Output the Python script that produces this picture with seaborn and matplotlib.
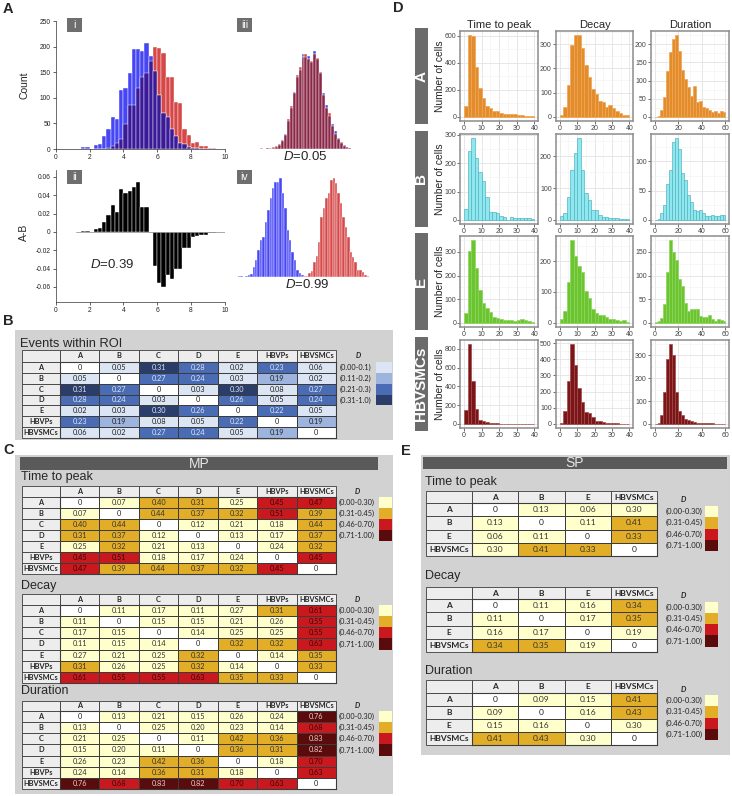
import numpy as np
import pandas as pd
import matplotlib
matplotlib.use("Agg")
import matplotlib.pyplot as plt
from matplotlib.colors import ListedColormap
from matplotlib.patches import Rectangle
from matplotlib.ticker import MultipleLocator, FuncFormatter
import seaborn as sns

sns.set_style("white")
plt.rcParams["font.family"] = ["Liberation Sans", "DejaVu Sans"]
plt.rcParams["mathtext.fontset"] = "custom"
plt.rcParams["mathtext.it"] = "Liberation Sans:italic"
plt.rcParams["mathtext.rm"] = "Liberation Sans"

W, H = 732, 796

# ---------------- panel A data (bin heights, bins of 0.25) ----------------
a_bin_w = 0.25
ai_start = 1.25
ai_blue = [0, 3, 3, 0, 7, 10, 25, 40, 62, 58, 115, 120, 148, 195, 195, 192, 208,
           182, 152, 105, 70, 62, 40, 25, 12, 10, 4, 2, 1, 0, 0, 0, 0]
ai_red = [0, 0, 0, 0, 0, 0, 0, 2, 5, 12, 20, 48, 85, 85, 120, 140, 148, 172, 200,
          198, 188, 140, 140, 92, 90, 40, 28, 12, 14, 6, 6, 1, 1]
aii_diff = [0.0005, 0.001, 0.001, 0, 0.003, 0.004, 0.011, 0.019, 0.029, 0.022,
            0.047, 0.042, 0.045, 0.049, 0.054, 0.027, 0.027, 0, -0.037, -0.056,
            -0.060, -0.047, -0.051, -0.040, -0.040, -0.018, -0.018, -0.006,
            -0.004, -0.003, -0.003, -0.001, -0.001]
aiii_start = 2.5
aiii_blue = [2, 0, 1, 0, 2, 4, 8, 16, 30, 55, 80, 112, 140, 155, 185, 180, 182,
             170, 192, 175, 148, 110, 85, 65, 48, 35, 22, 12, 8, 4, 1]
aiii_red = [0, 0, 1, 1, 3, 5, 10, 18, 28, 58, 84, 110, 145, 160, 180, 185, 175,
            172, 185, 178, 150, 105, 80, 70, 45, 30, 20, 14, 6, 3, 2]
aiv_blue_start = 0.5
aiv_blue = [2, 2, 0, 3, 5, 6, 20, 35, 55, 75, 80, 110, 135, 160, 180, 192, 192,
            200, 170, 140, 95, 75, 50, 35, 15, 8, 4, 2, 1, 0, 0, 0]
aiv_red_start = 7.0
aiv_red = [1, 2, 3, 8, 12, 30, 42, 70, 120, 140, 160, 170, 195, 200, 190, 170,
           150, 120, 100, 80, 50, 40, 30, 15, 15, 10, 5, 2]

# ---------------- panel B / C / E tables ----------------
names7 = ["A", "B", "C", "D", "E", "HBVPs", "HBVSMCs"]
names4 = ["A", "B", "E", "HBVSMCs"]

roi = [[0, 0.05, 0.31, 0.28, 0.02, 0.23, 0.06],
       [0.05, 0, 0.27, 0.24, 0.03, 0.19, 0.02],
       [0.31, 0.27, 0, 0.03, 0.30, 0.08, 0.27],
       [0.28, 0.24, 0.03, 0, 0.26, 0.05, 0.24],
       [0.02, 0.03, 0.30, 0.26, 0, 0.22, 0.05],
       [0.23, 0.19, 0.08, 0.05, 0.22, 0, 0.19],
       [0.06, 0.02, 0.27, 0.24, 0.05, 0.19, 0]]

mp_ttp = [[0, 0.07, 0.40, 0.31, 0.25, 0.45, 0.47],
          [0.07, 0, 0.44, 0.37, 0.32, 0.51, 0.39],
          [0.40, 0.44, 0, 0.12, 0.21, 0.18, 0.44],
          [0.31, 0.37, 0.12, 0, 0.13, 0.17, 0.37],
          [0.25, 0.32, 0.21, 0.13, 0, 0.24, 0.32],
          [0.45, 0.51, 0.18, 0.17, 0.24, 0, 0.45],
          [0.47, 0.39, 0.44, 0.37, 0.32, 0.45, 0]]
mp_decay = [[0, 0.11, 0.17, 0.11, 0.27, 0.31, 0.61],
            [0.11, 0, 0.15, 0.15, 0.21, 0.26, 0.55],
            [0.17, 0.15, 0, 0.14, 0.25, 0.25, 0.55],
            [0.11, 0.15, 0.14, 0, 0.32, 0.32, 0.63],
            [0.27, 0.21, 0.25, 0.32, 0, 0.14, 0.35],
            [0.31, 0.26, 0.25, 0.32, 0.14, 0, 0.33],
            [0.61, 0.55, 0.55, 0.63, 0.35, 0.33, 0]]
mp_dur = [[0, 0.13, 0.21, 0.15, 0.26, 0.24, 0.76],
          [0.13, 0, 0.25, 0.20, 0.23, 0.14, 0.68],
          [0.21, 0.25, 0, 0.11, 0.42, 0.36, 0.83],
          [0.15, 0.20, 0.11, 0, 0.36, 0.31, 0.82],
          [0.26, 0.23, 0.42, 0.36, 0, 0.18, 0.70],
          [0.24, 0.14, 0.36, 0.31, 0.18, 0, 0.63],
          [0.76, 0.68, 0.83, 0.82, 0.70, 0.63, 0]]

sp_ttp = [[0, 0.13, 0.06, 0.30], [0.13, 0, 0.11, 0.41],
          [0.06, 0.11, 0, 0.33], [0.30, 0.41, 0.33, 0]]
sp_decay = [[0, 0.11, 0.16, 0.34], [0.11, 0, 0.17, 0.35],
            [0.16, 0.17, 0, 0.19], [0.34, 0.35, 0.19, 0]]
sp_dur = [[0, 0.09, 0.15, 0.41], [0.09, 0, 0.16, 0.43],
          [0.15, 0.16, 0, 0.30], [0.41, 0.43, 0.30, 0]]

roi_legend = ["(0.00-0.1)", "(0.11-0.2)", "(0.21-0.3)", "(0.31-1.0)"]
d_legend = ["(0.00-0.30)", "(0.31-0.45)", "(0.46-0.70)", "(0.71-1.00)"]

# ---------------- panel D histograms ----------------
d_rows = ["A", "B", "E", "HBVSMCs"]
d_cols = ["Time to peak", "Decay", "Duration"]
ttp = {"A": [83, 605, 598, 372, 215, 138, 83, 65, 45, 40, 28, 22, 22, 20, 20, 15, 12, 10, 10, 5],
       "B": [38, 243, 289, 217, 170, 137, 80, 27, 27, 24, 14, 12, 0, 12, 5, 5, 7, 7, 7, 4],
       "E": [43, 303, 350, 231, 139, 83, 61, 46, 24, 21, 17, 13, 14, 13, 10, 11, 17, 11, 6, 4],
       "HBVSMCs": [150, 852, 463, 157, 45, 28, 17, 10, 7, 7, 4, 3, 3, 2, 2, 2, 1, 1, 1, 1]}
decay = {"A": [7, 40, 133, 298, 337, 337, 283, 214, 164, 115, 94, 67, 60, 40, 50, 36, 25, 18, 8, 8],
         "B": [13, 21, 72, 158, 210, 258, 158, 86, 63, 32, 30, 16, 8, 8, 5, 5, 6, 4, 3, 2],
         "E": [11, 38, 133, 268, 216, 183, 164, 104, 82, 44, 33, 27, 24, 19, 13, 11, 9, 5, 8, 4],
         "HBVSMCs": [4, 80, 264, 494, 366, 224, 134, 77, 65, 43, 20, 16, 12, 8, 6, 5, 4, 3, 3, 2]}
duration = {"A": [1, 2, 20, 54, 126, 179, 215, 225, 180, 130, 105, 83, 57, 84, 41, 45, 28, 24,
                  20, 14, 16, 11, 16, 14],
            "B": [0, 1, 12, 26, 61, 86, 133, 140, 121, 81, 69, 43, 31, 17, 16, 17, 12, 6, 7, 9,
                  6, 6, 9, 8],
            "E": [1, 3, 11, 39, 107, 175, 150, 132, 93, 77, 43, 25, 30, 30, 29, 14, 13, 13, 16, 9,
                  5, 9, 7, 4],
            "HBVSMCs": [0, 4, 40, 138, 283, 350, 300, 141, 58, 40, 20, 17, 12, 9, 6, 6, 4, 4, 3, 3,
                        2, 2, 2, 2]}
d_bin_w = {"Time to peak": 2, "Decay": 2, "Duration": 2.5}
d_ystep = {"A": (200, 100, 50), "B": (100, 100, 50), "E": (100, 100, 50), "HBVSMCs": (200, 100, 100)}
d_fill = {"A": "#E28C2C", "B": "#8FE8F0", "E": "#6CC530", "HBVSMCs": "#7B1517"}
d_edge = {"A": "#EFA553", "B": "#55B4C0", "E": "#8AD65A", "HBVSMCs": "#A04A4A"}

BG = "#D2D2D2"
HEAD = "#EDEDED"
LINE = "#3C3C3C"
BLUE = "#4646F5"
RED = "#D64848"
blue_cols = ["#FFFFFF", "#DCE5F3", "#9DB5DE", "#4A6CB4", "#2B3D6B"]
blue_text = ["#222222", "#222222", "#222222", "#DDE3F0", "#DDE3F0"]
blue_cuts = [0.005, 0.105, 0.205, 0.295]
heat_cols = ["#FFFFFF", "#FFFFCC", "#E3AE27", "#C9191E", "#5A0B0B"]
heat_text = ["#222222", "#333333", "#333333", "#3A0606", "#EBCACA"]
heat_cuts = [0.005, 0.305, 0.445, 0.705]

fig = plt.figure(figsize=(W / 100, H / 100), dpi=100)
ov = fig.add_axes([0, 0, 1, 1])
ov.set_xlim(0, W)
ov.set_ylim(H, 0)
ov.axis("off")


def px_ax(x0, y0, x1, y1):
    return fig.add_axes([x0 / W, 1 - y1 / H, (x1 - x0) / W, (y1 - y0) / H])


def hist(ax, start, width, heights, color, **kw):
    n = len(heights)
    centers = start + width * (np.arange(n) + 0.5)
    df = pd.DataFrame({"x": centers, "w": np.asarray(heights, dtype=float)})
    sns.histplot(data=df, x="x", weights="w", binwidth=width,
                 binrange=(start, start + n * width), ax=ax, color=color, **kw)
    ax.set_xlabel("")
    ax.set_ylabel("")


def overlap_hist(ax, start, blue, red, dark, first="red"):
    # two samples drawn over each other, shared part shown darker
    kw = dict(alpha=1, edgecolor="white", linewidth=0.3)
    order = [(red, RED), (blue, BLUE)] if first == "red" else [(blue, BLUE), (red, RED)]
    for h, c in order:
        hist(ax, start, a_bin_w, h, c, **kw)
    hist(ax, start, a_bin_w, np.minimum(blue, red), dark, **kw)


def table(vals, names, x0, xc, x1, y0, yh, y1, colors, cuts, tcols, fs):
    vals = np.array(vals, dtype=float)
    n = len(names)
    cw = (x1 - xc) / n
    rh = (y1 - yh) / n
    ov.add_patch(Rectangle((x0, y0), xc - x0, yh - y0, fc=HEAD, ec=LINE, lw=0.6))
    for i, nm in enumerate(names):
        ov.add_patch(Rectangle((xc + i * cw, y0), cw, yh - y0, fc=HEAD, ec=LINE, lw=0.6))
        ov.text(xc + (i + 0.5) * cw, (y0 + yh) / 2, nm, ha="center", va="center",
                fontsize=fs, fontweight="bold", family="Lato")
        ov.add_patch(Rectangle((x0, yh + i * rh), xc - x0, rh, fc=HEAD, ec=LINE, lw=0.6))
        ov.text((x0 + xc) / 2, yh + (i + 0.5) * rh, nm, ha="center", va="center",
                fontsize=fs, fontweight="bold", family="Lato")
    hax = px_ax(xc, yh, x1, y1)
    cls = np.digitize(vals, cuts)
    labels = np.where(vals == 0, "0", np.char.mod("%.2f", vals))
    sns.heatmap(cls, ax=hax, cmap=ListedColormap(colors), vmin=-0.5, vmax=len(colors) - 0.5,
                annot=labels, fmt="", cbar=False, linewidths=0.6, linecolor=LINE,
                xticklabels=False, yticklabels=False,
                annot_kws={"fontsize": fs, "family": "Lato"})
    for t, c in zip(hax.texts, cls.flat):
        t.set_color(tcols[c])
    for s in hax.spines.values():
        s.set_visible(True)
        s.set_color(LINE)
        s.set_linewidth(0.8)
    return rh


def legend(xd, yd, xlab, ha, ys, h, sx0, sx1, labels, colors, fs):
    ov.text(xd, yd, "D", ha="center", va="center", fontsize=fs, fontweight="bold",
            style="italic", family="Lato")
    for y, lab, c in zip(ys, labels, colors):
        ov.text(xlab, y, lab, ha=ha, va="center", fontsize=fs, family="Lato", color="#222222")
        ov.add_patch(Rectangle((sx0, y - h / 2), sx1 - sx0, h, fc=c, ec="none"))


# ---------------- panel letters ----------------
for x, y, s in [(3, 9, "A"), (3, 321, "B"), (3, 450, "C"), (393, 8, "D"), (401, 451, "E")]:
    ov.text(x, y, s, fontsize=10.5, fontweight="bold", va="center", ha="left")

# ---------------- panel A ----------------
ax_i = px_ax(55.7, 21, 224.7, 149)
overlap_hist(ax_i, ai_start, ai_blue, ai_red, "#3A1A98", first="red")
ax_i.set_xlim(0, 10)
ax_i.set_ylim(0, 250)
ax_i.yaxis.set_major_locator(MultipleLocator(50))

ax_ii = px_ax(55.7, 170, 224.7, 302)
hist(ax_ii, ai_start, a_bin_w, aii_diff, "black", alpha=1, edgecolor="white", linewidth=0.3)
ax_ii.axhline(0, xmin=0.12, color="#9a9a9a", lw=0.6)
ax_ii.set_xlim(0, 10)
ax_ii.set_ylim(-0.0764, 0.0676)
ax_ii.yaxis.set_major_locator(MultipleLocator(0.02))
ax_ii.yaxis.set_major_formatter(FuncFormatter(lambda v, p: "0" if abs(v) < 1e-9 else f"{v:.2f}"))

for ax in (ax_i, ax_ii):
    ax.xaxis.set_major_locator(MultipleLocator(2))
    sns.despine(ax=ax)
    for s in ("left", "bottom"):
        ax.spines[s].set_color("#333333")
        ax.spines[s].set_linewidth(0.5)
    ax.tick_params(labelsize=4.8, length=2, width=0.5, pad=1.5, colors="#222222",
                   left=True, bottom=True)
    ax.patch.set_alpha(0)

ax_iii = px_ax(237, 21, 352, 149)
overlap_hist(ax_iii, aiii_start, aiii_blue, aiii_red, "#8A2848", first="blue")
ax_iii.set_xlim(0.5, 10.3)
ax_iii.set_ylim(0, 250)
ax_iii.axis("off")

ax_iv = px_ax(237, 153, 370, 277)
hist(ax_iv, aiv_blue_start, a_bin_w, aiv_blue, BLUE, alpha=1, edgecolor="white", linewidth=0.3)
hist(ax_iv, aiv_red_start, a_bin_w, aiv_red, RED, alpha=1, edgecolor="white", linewidth=0.3)
ax_iv.set_xlim(0.4, 14.1)
ax_iv.set_ylim(0, 250)
ax_iv.axis("off")

ov.text(24, 85, "Count", rotation=90, ha="center", va="center", fontsize=7.5)
ov.text(24, 232, "A-B", rotation=90, ha="center", va="center", fontsize=7.5)
ov.text(305, 157, "$D$=0.05", ha="center", va="center", fontsize=9.5)
ov.text(112, 265, "$D$=0.39", ha="center", va="center", fontsize=9.5)
ov.text(307, 285, "$D$=0.99", ha="center", va="center", fontsize=9.5)
for x, y, s in [(67, 18, "i"), (237, 18, "iii"), (67, 170, "ii"), (237, 170, "iv")]:
    ov.add_patch(Rectangle((x, y), 15, 14, fc="#6E6E6E", ec="none"))
    ov.text(x + 7.5, y + 7, s, ha="center", va="center", color="white", fontsize=7.5)

# ---------------- panel B ----------------
ov.add_patch(Rectangle((15, 330), 378, 110, fc=BG, ec="none"))
ov.text(20, 344, "Events within ROI", fontsize=9.3, va="center")
rh = table(roi, names7, 22, 60, 336, 350, 362, 438, blue_cols, blue_cuts, blue_text, 5.3)
legend(358, 356, 340, "left", [362 + (k + 0.5) * rh for k in range(4)], rh, 376, 392,
       roi_legend, blue_cols[1:], 5.3)

# ---------------- panel C ----------------
ov.add_patch(Rectangle((15, 455), 378, 339, fc=BG, ec="none"))
ov.add_patch(Rectangle((20, 457), 358, 13, fc="#5A5A5A", ec="none"))
ov.text(199, 463.5, "MP", ha="center", va="center", color="#E6E6E6", fontsize=10)
for title, vals, yt, y0, yh, y1 in [("Time to peak", mp_ttp, 477, 486, 497, 574),
                                    ("Decay", mp_decay, 586.5, 594, 605, 683),
                                    ("Duration", mp_dur, 691.5, 700.5, 711, 789)]:
    ov.text(21, yt, title, fontsize=9, va="center")
    rh = table(vals, names7, 22, 60, 336, y0, yh, y1, heat_cols, heat_cuts, heat_text, 5.3)
    legend(357, (y0 + yh) / 2, 339, "left", [yh + (k + 0.5) * rh for k in range(4)], rh,
           379, 392, d_legend, heat_cols[1:], 5.3)

# ---------------- panel E ----------------
ov.add_patch(Rectangle((421, 455), 309, 300, fc=BG, ec="none"))
ov.add_patch(Rectangle((423, 457), 304, 12, fc="#5A5A5A", ec="none"))
ov.text(575, 463, "SP", ha="center", va="center", color="#E6E6E6", fontsize=10)
for title, vals, yt, y0, yh, y1 in [("Time to peak", sp_ttp, 481.5, 491, 503, 556),
                                    ("Decay", sp_decay, 576.5, 586.7, 599.3, 651.7),
                                    ("Duration", sp_dur, 671.5, 680, 693.3, 745)]:
    ov.text(425, yt, title, fontsize=9, va="center")
    table(vals, names4, 426, 472, 657, y0, yh, y1, heat_cols, heat_cuts, heat_text, 6)
    sh = 11.25
    legend(683, y0 + 9, 703, "right", [y0 + 15 + (k + 0.5) * sh for k in range(4)], sh,
           705, 718, d_legend, heat_cols[1:], 5.5)

# ---------------- panel D ----------------
col_x = [(460.5, 538), (556, 633), (651, 729)]
row_y = [(31, 121), (134, 224), (236, 327), (340, 428)]
series = {"Time to peak": ttp, "Decay": decay, "Duration": duration}
xlims = {"Time to peak": (-2, 42), "Decay": (-2, 42), "Duration": (-3, 63)}
xsteps = {"Time to peak": 10, "Decay": 10, "Duration": 20}

for (cx0, cx1), name in zip(col_x, d_cols):
    ov.text((cx0 + cx1) / 2, 25, name, ha="center", va="center", fontsize=8)

for (ry0, ry1), row in zip(row_y, d_rows):
    ov.add_patch(Rectangle((415, ry0 - 3), 13, ry1 - ry0 + 6, fc="#6B6B6B", ec="none"))
    ov.text(421.5, (ry0 + ry1) / 2, row, rotation=90, ha="center", va="center",
            color="white", fontsize=11, fontweight="bold")
    ov.text(440, (ry0 + ry1) / 2, "Number of cells", rotation=90, ha="center",
            va="center", fontsize=7.4)
    for (cx0, cx1), name, ystep in zip(col_x, d_cols, d_ystep[row]):
        ax = px_ax(cx0, ry0, cx1, ry1)
        heights = series[name][row]
        hist(ax, 0, d_bin_w[name], heights, d_fill[row], alpha=1,
             edgecolor=d_edge[row], linewidth=0.5)
        top = max(heights)
        ax.set_xlim(*xlims[name])
        ax.set_ylim(-0.05 * top, 1.05 * top)
        ax.xaxis.set_major_locator(MultipleLocator(xsteps[name]))
        ax.xaxis.set_minor_locator(MultipleLocator(xsteps[name] / 2))
        ax.yaxis.set_major_locator(MultipleLocator(ystep))
        ax.yaxis.set_minor_locator(MultipleLocator(ystep / 2))
        ax.set_axisbelow(True)
        ax.grid(which="major", color="#E3E3E3", lw=0.6)
        ax.grid(which="minor", color="#F1F1F1", lw=0.4)
        ax.tick_params(which="major", labelsize=5, length=2, width=0.5, pad=1,
                       colors="#333333", labelcolor="#444444", left=True, bottom=True)
        ax.tick_params(which="minor", length=0)
        for s in ax.spines.values():
            s.set_visible(True)
            s.set_color("#8C8C8C")
            s.set_linewidth(1.1)

fig.savefig("out.png", dpi=100)
